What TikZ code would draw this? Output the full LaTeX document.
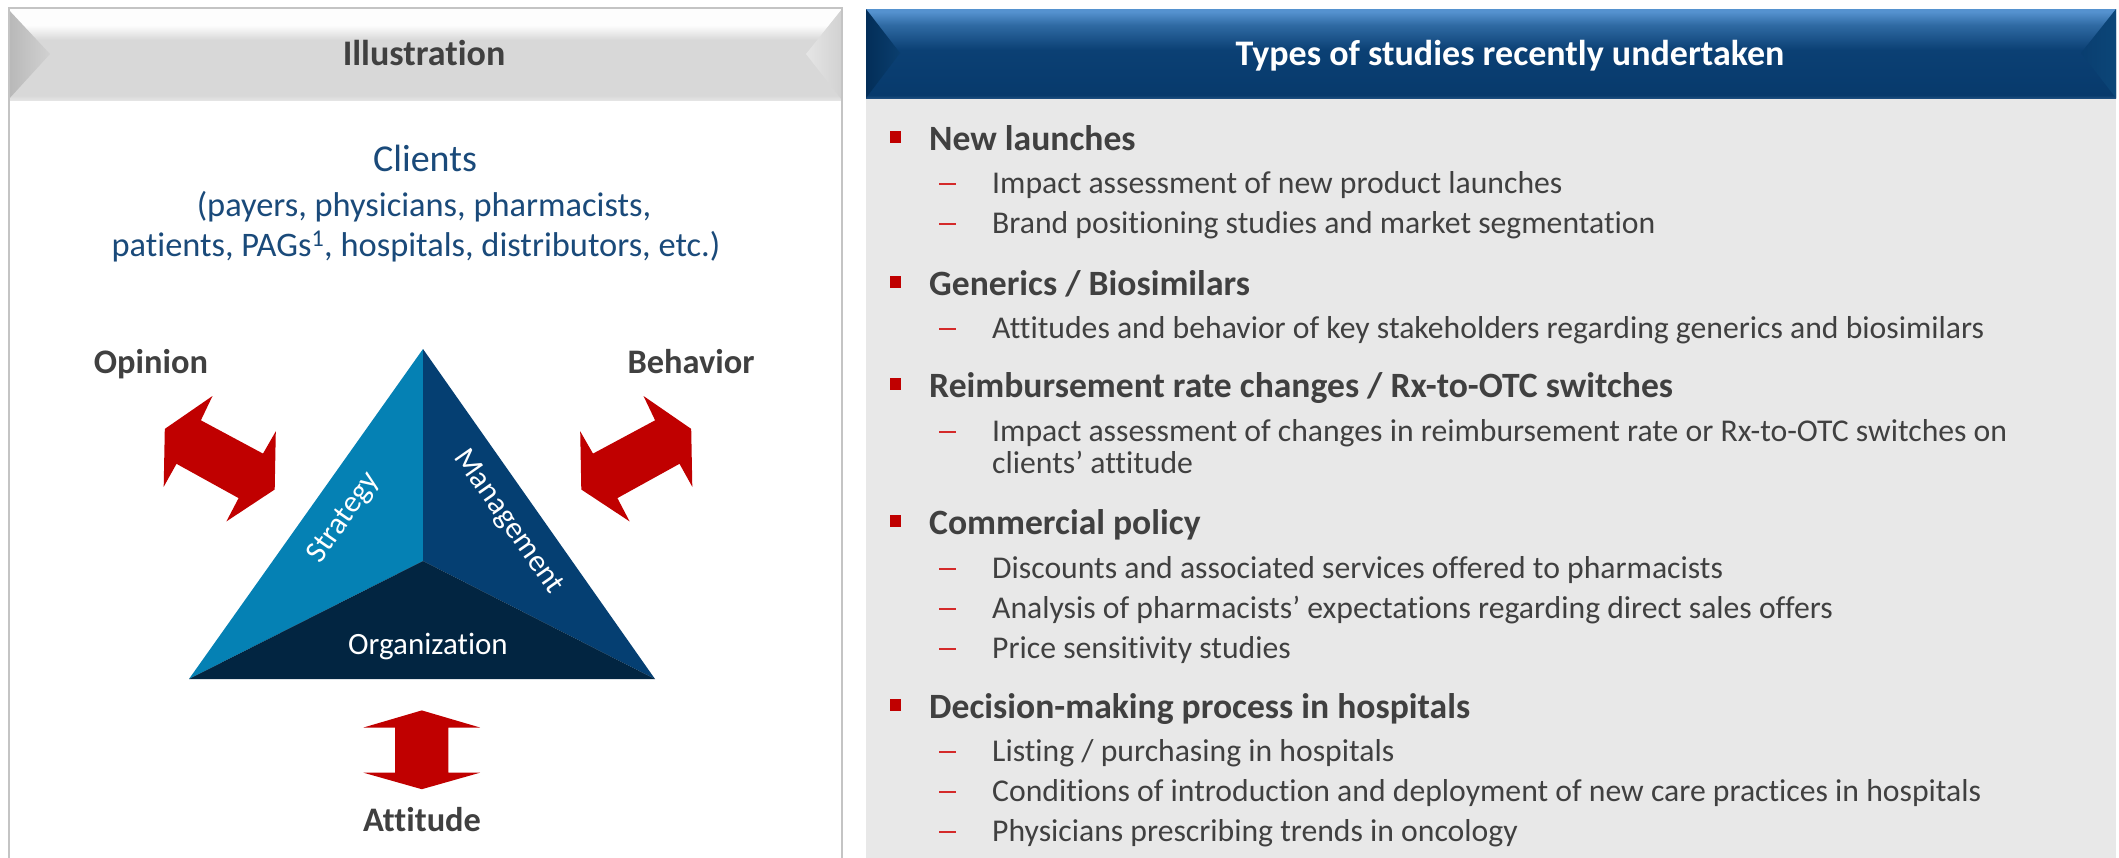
\documentclass[tikz,border=0pt]{standalone}
\usepackage{fontspec}
\setmainfont{Carlito}[Ligatures={NoCommon}]
\definecolor{txt}{HTML}{404040}
\definecolor{cliblue}{HTML}{1A4A7A}
\definecolor{arrred}{HTML}{C00000}
\definecolor{bulred}{HTML}{C00000}
\definecolor{dashred}{HTML}{D42A2A}
\definecolor{bodygray}{HTML}{E8E8E8}
\definecolor{bordergray}{HTML}{C4C4C4}
\definecolor{facea}{HTML}{0581B4}
\definecolor{faceb}{HTML}{053F72}
\definecolor{facec}{HTML}{022541}
\definecolor{gha}{HTML}{E4E4E4}
\definecolor{ghb}{HTML}{D8D8D8}
\definecolor{ghc}{HTML}{FDFDFD}
\definecolor{bha}{HTML}{5592CF}
\definecolor{bhb}{HTML}{2F6AA3}
\definecolor{bhc}{HTML}{0B4074}
\definecolor{bhd}{HTML}{073A6C}
\definecolor{bhe}{HTML}{1C4D7E}
\pgfdeclareverticalshading{grayhead}{100bp}{color(0bp)=(gha); color(25bp)=(gha); color(27.5bp)=(ghb); color(58bp)=(ghb); color(66bp)=(ghc); color(100bp)=(ghc)}
\pgfdeclareverticalshading{bluehead}{100bp}{color(0bp)=(bhe); color(25bp)=(bhe); color(26.5bp)=(bhd); color(52bp)=(bhc); color(66bp)=(bhb); color(73.5bp)=(bha); color(100bp)=(bha)}
\tikzset{
  headtxt/.style={anchor=base west, inner sep=0pt, text=txt, font=\fontsize{35.6}{40}\selectfont\bfseries},
  subtxt/.style={anchor=base west, inner sep=0pt, text=txt, font=\fontsize{31.7}{38}\selectfont},
  clitxt/.style={anchor=base, inner sep=0pt, text=cliblue, font=\fontsize{34.4}{40}\selectfont},
  lbltxt/.style={anchor=base, inner sep=0pt, text=txt, font=\fontsize{34.4}{40}\selectfont\bfseries},
  facetxt/.style={inner sep=0pt, text=white, font=\fontsize{31}{36}\selectfont},
  arrowshape/.style={fill=arrred, draw=none}
}
\newcommand\myheaditem[3]{%
  \fill[bulred] (890,#1-19) rectangle (901,#1-7);
  \node[headtxt] (#2) at (929,#1) {#3};}
\newcommand\mysubitem[3]{%
  \draw[dashred, line width=2.2pt] (939,#1-9) -- (956,#1-9);
  \node[subtxt] (#2) at (992,#1) {#3};}
\begin{document}
\begin{tikzpicture}[x=1pt,y=-1pt]
\useasboundingbox (0,0) rectangle (2119,857);
\fill[white] (0,0) rectangle (2119,857);
% ---------- left panel ----------
\shade[shading=grayhead] (8,9) rectangle (842,100);
\shade[left color=black!28, right color=black!18] (8,9) -- (50,54) -- (8,100) -- cycle;
\shade[left color=black!10, right color=black!18] (842,9) -- (806,54) -- (842,100) -- cycle;
\draw[bordergray, line width=2pt] (9,862) -- (9,8) -- (842,8) -- (842,862);
\node[anchor=base, inner sep=0pt, text=txt, font=\fontsize{36}{40}\selectfont\bfseries] (illus) at (424,65) {Illustration};
\node[clitxt, font=\fontsize{38}{44}\selectfont] (clients) at (425,171) {Clients};
\node[clitxt] (cltwo) at (424,216) {(payers, physicians, pharmacists,};
\node[clitxt] (clthree) at (416,256) {patients, PAGs\textsuperscript{1}, hospitals, distributors, etc.)};
\node[lbltxt] (opinion) at (151,373) {Opinion};
\node[lbltxt] (behavior) at (691,373) {Behavior};
\node[lbltxt] (attitude) at (422,831) {Attitude};
% triangle
\coordinate (apex) at (423,349);
\coordinate (bl) at (189,679);
\coordinate (br) at (655,679);
\coordinate (ctr) at (423,561);
\fill[facea] (apex) -- (bl) -- (ctr) -- cycle;
\fill[faceb] (apex) -- (ctr) -- (br) -- cycle;
\fill[facec] (bl) -- (ctr) -- (br) -- cycle;
\node[facetxt, rotate=55] (strategy) at (344,518) {Strategy};
\node[facetxt, rotate=-55] (management) at (508,522) {Management};
\node[facetxt, anchor=base] (organization) at (428,654) {Organization};
% arrows
\fill[arrowshape] (212.5,396) -- (164.8,428.9) -- (163.7,486.8) -- (176.5,463.8) -- (238.6,498.1) -- (226.4,521.4) -- (274.7,489.5) -- (275.8,431.3) -- (263.0,453.6) -- (200.9,420.3) -- cycle;
\fill[arrowshape] (643.5,396) -- (691.2,428.9) -- (692.3,486.8) -- (679.5,463.8) -- (617.4,498.1) -- (629.6,521.4) -- (581.3,489.5) -- (580.2,431.3) -- (593.0,453.6) -- (655.1,420.3) -- cycle;
\fill[arrowshape] (421.8,710.4) -- (480,727.5) -- (448.4,727.5) -- (448.4,772.7) -- (480,772.7) -- (421.8,789.2) -- (363.5,772.7) -- (395.1,772.7) -- (395.1,727.5) -- (363.5,727.5) -- cycle;
% ---------- right panel ----------
\fill[bodygray] (866,98) rectangle (2116,860);
\shade[shading=bluehead] (866,9) rectangle (2116,98);
\shade[left color={rgb,255:red,3;green,46;blue,88}, right color={rgb,255:red,10;green,62;blue,110}] (866,9) -- (900,53) -- (866,98) -- cycle;
\shade[left color={rgb,255:red,9;green,62;blue,112}, right color={rgb,255:red,12;green,70;blue,120}] (2116,9) -- (2081,53) -- (2116,98) -- cycle;
\node[anchor=base, inner sep=0pt, text=white, font=\fontsize{36}{40}\selectfont\bfseries] (types) at (1510,65) {Types of studies recently undertaken};
\myheaditem{150}{hnew}{New launches}
\mysubitem{193}{snewa}{Impact assessment of new product launches}
\mysubitem{233}{snewb}{Brand positioning studies and market segmentation}
\myheaditem{295}{hgen}{Generics / Biosimilars}
\mysubitem{338}{sgena}{Attitudes and behavior of key stakeholders regarding generics and biosimilars}
\myheaditem{397}{hreim}{Reimbursement rate changes / Rx-to-OTC switches}
\mysubitem{441}{sreima}{Impact assessment of changes in reimbursement rate or Rx-to-OTC switches on}
\node[subtxt] (sreimb) at (992,473) {clients’ attitude};
\myheaditem{534}{hcom}{Commercial policy}
\mysubitem{578}{scoma}{Discounts and associated services offered to pharmacists}
\mysubitem{618}{scomb}{Analysis of pharmacists’ expectations regarding direct sales offers}
\mysubitem{658}{scomc}{Price sensitivity studies}
\myheaditem{718}{hdec}{Decision-making process in hospitals}
\mysubitem{761}{sdeca}{Listing / purchasing in hospitals}
\mysubitem{801}{sdecb}{Conditions of introduction and deployment of new care practices in hospitals}
\mysubitem{841}{sdecc}{Physicians prescribing trends in oncology}
\end{tikzpicture}
\end{document}
